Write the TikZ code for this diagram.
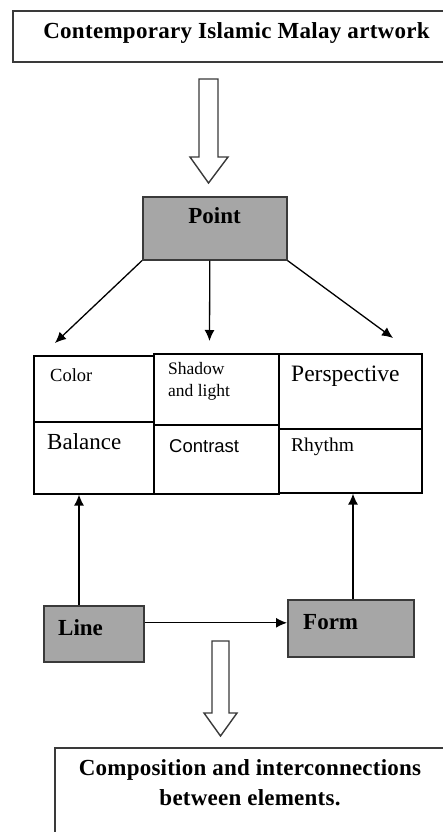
\documentclass[tikz,border=0pt]{standalone}
\usepackage{fontspec}
\setmainfont{Liberation Serif}
\setsansfont{Liberation Sans}
\usetikzlibrary{arrows.meta,calc}
\definecolor{boxgray}{HTML}{A6A6A6}
\definecolor{edgegray}{HTML}{3A3A3A}
\begin{document}
\begin{tikzpicture}[x=1pt,y=-1pt,
  bigbox/.style={draw=edgegray,line width=1.6pt,fill=white},
  graybox/.style={draw=edgegray,line width=1.6pt,fill=boxgray,anchor=north west,inner sep=0pt},
  cell/.style={draw=black,line width=1.6pt,anchor=north west,inner sep=0pt},
  boldtxt/.style={font=\fontsize{23}{30}\selectfont\bfseries,inner sep=0pt},
  celltxt/.style={anchor=west,inner sep=0pt},
  arr/.style={line width=1.3pt,-{Latex[length=11pt,width=10pt]}},
  hollow/.style={draw=edgegray,line width=1.4pt,fill=white,line join=miter}
]
\useasboundingbox (0,0) rectangle (443,832);
\fill[white] (0,0) rectangle (443,832);

% top box
\node[bigbox,anchor=north west,minimum width=436pt,minimum height=51pt,inner sep=0pt] (top) at (12,10) {};
\node[boldtxt,font=\fontsize{23}{30}\selectfont\bfseries\addfontfeatures{LetterSpace=1.3}] (toptxt) at (236.5,33) {Contemporary Islamic Malay artwork};

% hollow arrow 1
\draw[hollow] (199,79) -- (218,79) -- (218,157) -- (228,157) -- (208.5,183) -- (190,157) -- (199,157) -- cycle;

% Point box
\node[graybox,minimum width=144pt,minimum height=63pt] (point) at (142,196) {};
\node[boldtxt] (pointtxt) at (214.5,216) {Point};

% grid cells
\node[cell,minimum width=120pt,minimum height=66pt] (color) at (33,355) {};
\node[cell,minimum width=120pt,minimum height=72pt] (balance) at (33,421) {};
\node[cell,minimum width=125pt,minimum height=71pt] (shadow) at (153,353) {};
\node[cell,minimum width=125pt,minimum height=69pt] (contrast) at (153,424) {};
\node[cell,minimum width=143pt,minimum height=75pt] (persp) at (278,353) {};
\node[cell,minimum width=143pt,minimum height=64pt] (rhythm) at (278,428) {};

\node[celltxt,font=\fontsize{18.5}{20}\selectfont] (colortxt) at (50,375) {Color};
\node[celltxt,anchor=north west,align=left,font=\fontsize{17.5}{22}\selectfont] (shadowtxt) at (168,362) {Shadow\\and light};
\node[celltxt,font=\fontsize{23.5}{26}\selectfont] (persptxt) at (291,376) {Perspective};
\node[celltxt,font=\fontsize{23}{26}\selectfont] (balancetxt) at (47,442) {Balance};
\node[celltxt,font=\sffamily\fontsize{18.5}{20}\selectfont] (contrasttxt) at (169,446) {Contrast};
\node[celltxt,font=\fontsize{19.5}{22}\selectfont] (rhythmtxt) at (291,447) {Rhythm};

% arrows from Point
\coordinate (tl) at (55,343);
\coordinate (tm) at (209.5,341);
\coordinate (tr) at (393,338);
\draw[arr] (point.south west) -- (tl);
\draw[arr] ([xshift=-5pt]point.south) -- (tm);
\draw[arr] (point.south east) -- (tr);

% Line and Form boxes
\node[graybox,minimum width=100pt,minimum height=56pt] (line) at (43,605) {};
\node[boldtxt,anchor=west] (linetxt) at (58,628) {Line};
\node[graybox,minimum width=126pt,minimum height=57pt] (form) at (287,599) {};
\node[boldtxt,anchor=west] (formtxt) at (303,622) {Form};

\draw[arr] ([xshift=36pt]line.north west) -- ([xshift=36pt]line.north west |- balance.south);
\draw[arr] ([xshift=66pt]form.north west) -- ([xshift=66pt]form.north west |- rhythm.south);
\draw[arr] ([yshift=11pt]line.east) -- ([yshift=11pt]line.east -| form.west);

% hollow arrow 2
\draw[hollow] (212,641) -- (229,641) -- (229,713) -- (237,713) -- (220.5,736) -- (204,713) -- (212,713) -- cycle;

% bottom box
\node[bigbox,anchor=north west,minimum width=394pt,minimum height=95pt,inner sep=0pt] (bottom) at (54,747) {};
\node[boldtxt,align=center,anchor=north,font=\fontsize{23}{30}\selectfont\bfseries\addfontfeatures{LetterSpace=1}] (bottomtxt) at (250,759) {Composition and interconnections\\between elements.};
\end{tikzpicture}
\end{document}
